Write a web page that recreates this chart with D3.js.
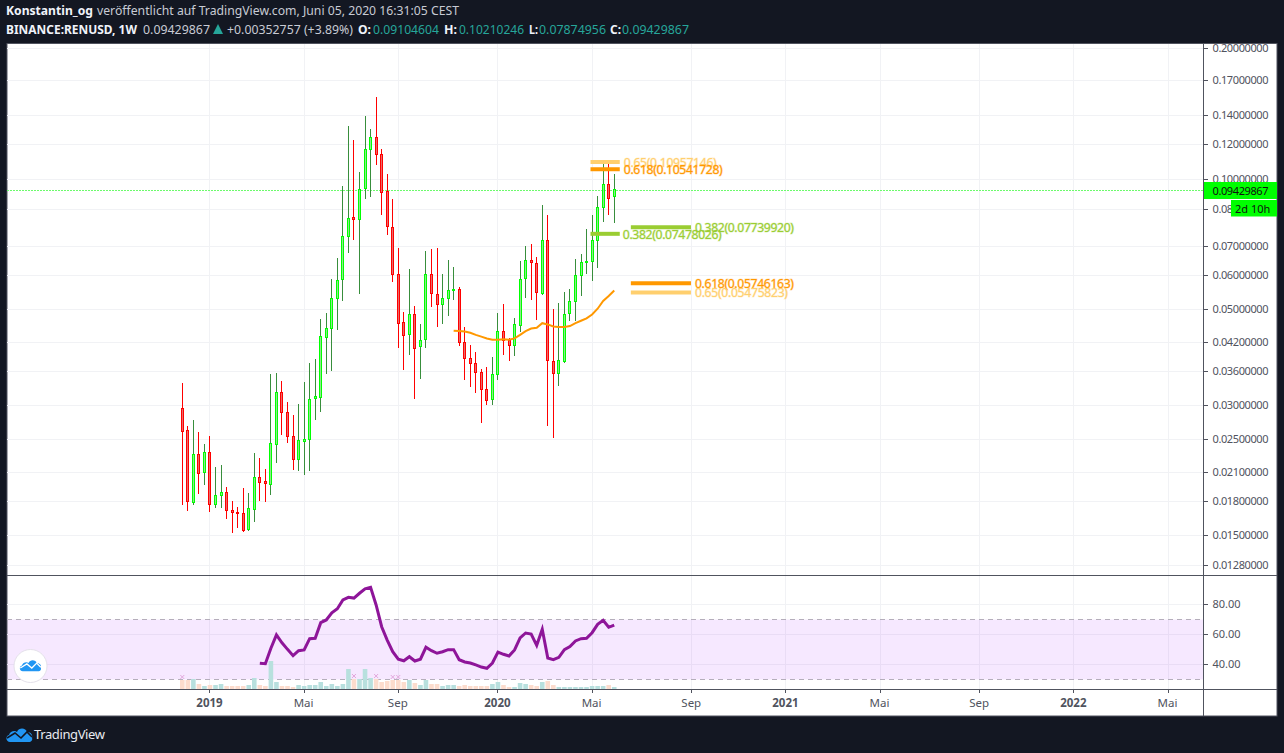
<!DOCTYPE html>
<html><head><meta charset="utf-8">
<script src="https://cdnjs.cloudflare.com/ajax/libs/d3/7.8.5/d3.min.js"></script>
<style>
html,body{margin:0;padding:0;background:#131722;overflow:hidden}
svg{display:block}
text{font-family:"Noto Sans",sans-serif}
</style></head><body>
<svg id="c" width="1284" height="753"></svg>
<script>
const firstWeek = "2018-12-03";
const open = [.02945,.0263,.0179,.0231,.0209,.0233,.01765,.01853,.01887,.01717,.01698,.0169,.01543,.01727,.02049,.01996,.0197,.02446,.03218,.02894,.02541,.02251,.02481,.02505,.0310,.03125,.0430,.0452,.05306,.0584,.0738,.0813,.0806,.0947,.1167,.1243,.1136,.0933,.0774,.0603,.0465,.0435,.0485,.0410,.0424,.0600,.0542,.0514,.0531,.0553,.0556,.0420,.0385,.0375,.0357,.0327,.0309,.0353,.0443,.0423,.0412,.0460,.0589,.0647,.0637,.0543,.0719,.0379,.0355,.0380,.0489,.0521,.0597,.0639,.0642,.0722,.0859,.0970,.09104];
const high = [.0336,.0268,.0277,.0259,.0244,.0254,.0216,.0218,.01936,.0180,.01743,.01925,.0188,.02322,.0226,.02135,.03534,.03552,.03402,.03046,.02843,.03015,.03383,.0374,.0382,.04742,.0490,.05845,.0654,.0959,.1320,.1226,.1034,.1392,.1300,.1541,.1169,.1023,.0895,.0689,.0491,.0617,.0506,.0461,.0679,.0687,.0689,.0601,.0648,.0624,.0560,.0454,.0412,.0397,.0363,.0366,.0386,.0488,.0512,.0429,.0476,.0645,.0697,.0705,.0658,.0867,.0823,.0498,.0516,.0546,.0556,.0650,.0669,.0763,.0823,.0912,.1079,.1079,.10210];
const low = [.01765,.0171,.0176,.0187,.0196,.0170,.01733,.01733,.01638,.01516,.0156,.01524,.01534,.01611,.0180,.0179,.0186,.02206,.02551,.0245,.02123,.02109,.02064,.02109,.0277,.02888,.03538,.0359,.04467,.0521,.0673,.0721,.0541,.0897,.0907,.1074,.0824,.0740,.0577,.04057,.0361,.0390,.0309,.0344,.0406,.0504,.0454,.0462,.0481,.0523,.0410,.0343,.0330,.0319,.0272,.0299,.0299,.0342,.0390,.0378,.0388,.0442,.0528,.0525,.0471,.0539,.0268,.0252,.0331,.0375,.0468,.0468,.0534,.0602,.0580,.0621,.0794,.0824,.07875];
const close = [.0261,.0180,.0231,.0209,.0233,.01765,.01856,.01887,.01717,.01695,.01686,.01543,.01729,.02049,.01996,.0197,.02446,.03218,.02894,.02541,.02251,.02485,.02505,.0310,.03137,.04318,.0452,.05306,.0584,.07357,.0812,.0806,.0947,.1167,.1243,.1136,.0929,.0774,.0603,.0465,.0433,.0485,.04057,.0424,.0600,.0542,.0514,.05306,.0553,.0556,.0419,.0385,.0375,.0358,.0327,.0309,.0353,.0443,.0422,.0412,.0460,.0587,.0647,.0639,.0545,.0719,.0379,.0355,.0381,.0487,.0522,.0597,.0640,.0644,.0719,.0861,.0970,.0901,.09430];
const volume = [9,9,10,5,3,4,4,5,3,3,3,3,4,11,4,3,28,7,3,3,2,4,3,4,4,7,3,5,3,5,20,10,10,20,11,10,7,8,9,9,7,9,6,4,9,5,5,3,4,4,3,4,3,3,3,3,5,7,4,2,2,6,5,4,3,7,8,4,2,2,2,2,2,2,3,3,3,4,2];
const volumeUp = [0,0,1,0,1,0,1,1,0,0,0,0,1,1,0,0,1,1,0,0,0,1,1,1,1,1,1,1,1,1,1,0,1,1,1,0,0,0,0,0,0,1,0,1,1,0,0,1,1,1,0,0,0,0,0,0,1,1,0,0,1,1,1,0,0,1,0,0,1,1,1,1,1,1,1,1,1,0,1];
const volumeMarks = [0,31,35,38,39];
const rsiStart = 14;
const rsi = [40.8,40.5,50.8,59.7,54.5,50.1,45.9,49.2,49.7,57.2,57.5,67.9,69.7,74.5,77.2,83,84.8,84.3,87.5,90.5,91.5,79.7,65.2,56.3,48.5,43.5,42.5,45.2,42.3,43.5,51.5,49.2,47.5,48.5,49.9,49.9,43.2,41.7,41,39.7,38.3,37.5,41,48.3,46.8,45.7,49.7,57.7,61,60.3,52.8,63.5,44.3,43.2,44.8,49.9,51.9,55.7,57.2,57.5,61.2,66.8,69.5,64.8,66.3];
const maStart = 49;
const ma = [.0445,.0444,.0443,.0440,.0435,.0431,.0427,.0424,.0424,.0425,.0424,.0427,.0435,.0444,.0450,.0452,.0463,.0460,.0455,.0454,.0454,.0456,.0463,.0469,.0475,.0485,.0500,.0521,.0535,.0551];
const priceTicks = [.2,.169,.14,.12,.1,.085,.07,.06,.05,.042,.036,.03,.025,.021,.018,.015,.0128];
const priceLabels = ["0.20000000","0.17000000","0.14000000","0.12000000","0.10000000","0.08500000","0.07000000","0.06000000","0.05000000","0.04200000","0.03600000","0.03000000","0.02500000","0.02100000","0.01800000","0.01500000","0.01280000"];
const rsiTicks = [80,60,40];
const timeTicks = [["2019-01-07","2019",1],["2019-05-06","Mai",0],["2019-09-02","Sep",0],["2020-01-06","2020",1],["2020-05-04","Mai",0],["2020-09-07","Sep",0],["2021-01-04","2021",1],["2021-05-03","Mai",0],["2021-09-06","Sep",0],["2022-01-03","2022",1],["2022-05-02","Mai",0]];
const fibLabels = ["0.65(0.10957146)","0.618(0.10541728)","0.382(0.07739920)","0.382(0.07478026)","0.618(0.05746163)","0.65(0.05475823)"];
const fibPrices = [.10957146,.10541728,.0773992,.07478026,.05746163,.05475823];
const fibStart = ["2020-05-02","2020-05-02","2020-06-22","2020-05-02","2020-06-22","2020-06-22"];
const fibEnd = ["2020-06-08","2020-06-08","2020-09-06","2020-06-08","2020-09-06","2020-09-06"];
const fibColors = ["#ffcf6e","#ff9800","#9acd32","#9acd32","#ff9800","#ffcf6e"];
const lastPrice = .09429867;

const svg = d3.select("#c");
const parse = d3.utcParse("%Y-%m-%d");
const weekDates = open.map((_,i)=>d3.utcWeek.offset(parse(firstWeek),i));
const x = d3.scaleUtc().domain([parse(firstWeek),parse("2022-05-02")]).range([182.3,1168]);
const y = d3.scaleLog().domain([.2,.0128]).range([48,565]);
const yLevel = d3.scaleLog().domain([.2,.0128]).range([48.8,565.8]);
const yR = d3.scaleLinear().domain([70,30]).range([619.5,679.5]);
const yV = d3.scaleLinear().domain([0,28]).range([689,661]);
const L=7,R=1203,E=1277,T=44,P1=575.5,P2=689,B=716;
const snap = v=>Math.floor(v)+.5;

// frame
svg.append("rect").attr("x",L).attr("y",T-.5).attr("width",E-L).attr("height",B-T+.5).attr("fill","#fff").attr("stroke","#50535e");
const grid="#f1f2f5";
const gg=svg.append("g").attr("shape-rendering","crispEdges");
gg.selectAll(".h").data(priceTicks).join("line").attr("x1",L).attr("x2",R).attr("y1",d=>snap(yLevel(d))).attr("y2",d=>snap(yLevel(d))).attr("stroke",grid);
gg.selectAll(".r").data(rsiTicks).join("line").attr("x1",L).attr("x2",R).attr("y1",d=>snap(yR(d))).attr("y2",d=>snap(yR(d))).attr("stroke",grid);
gg.selectAll(".v").data(timeTicks).join("path").attr("d",d=>{const X=snap(x(parse(d[0])));return `M${X} ${T}V${P1}M${X} ${P1}V${P2}`}).attr("stroke",grid);

// RSI band
svg.append("rect").attr("x",L+.5).attr("width",R-L).attr("y",yR(70)).attr("height",yR(30)-yR(70)).attr("fill","rgba(152,0,255,.09)");
[70,30].forEach(v=>svg.append("line").attr("x1",L).attr("x2",R).attr("y1",yR(v)).attr("y2",yR(v)).attr("stroke","#b5aebb").attr("stroke-dasharray","5 4"));

// volume
svg.append("g").selectAll("rect").data(volume).join("rect")
 .attr("x",(d,i)=>x(weekDates[i])-2.3).attr("width",4.6).attr("y",d=>yV(d)).attr("height",d=>yV(0)-yV(d))
 .attr("fill",(d,i)=>volumeUp[i]?"#b8e0de":"#fcdccd");
svg.append("g").selectAll("path").data(volumeMarks).join("path")
 .attr("d",d3.symbol(d3.symbolX,12))
 .attr("transform",d=>`translate(${x(weekDates[d])},${yV(volume[d])-3})`)
 .attr("fill","none").attr("stroke","#e3a6dc");

// last price line
svg.append("line").attr("x1",L).attr("x2",R).attr("y1",snap(yLevel(lastPrice))).attr("y2",snap(yLevel(lastPrice))).attr("stroke","#6cfb6c").attr("stroke-dasharray","2 1").attr("shape-rendering","crispEdges");

// candles
const cg=svg.append("g").attr("shape-rendering","crispEdges");
const idx=d3.range(open.length);
cg.selectAll("line").data(idx).join("line")
 .attr("x1",i=>snap(x(weekDates[i]))).attr("x2",i=>snap(x(weekDates[i])))
 .attr("y1",i=>y(high[i])).attr("y2",i=>y(low[i]))
 .attr("stroke",i=>close[i]>=open[i]?"#388e3c":"#ff0000");
cg.selectAll("rect").data(idx).join("rect")
 .attr("x",i=>snap(x(weekDates[i]))-1).attr("width",2)
 .attr("y",i=>Math.round(y(Math.max(open[i],close[i])))+.5)
 .attr("height",i=>Math.max(1,Math.round(y(Math.min(open[i],close[i]))-y(Math.max(open[i],close[i])))))
 .attr("fill",i=>close[i]>=open[i]?"#8fe68f":"#e86a6a")
 .attr("stroke",i=>close[i]>=open[i]?"#00ff00":"#ff0000");

// MA and RSI
svg.append("path").datum(ma).attr("fill","none").attr("stroke","#ff9800").attr("stroke-width",2)
 .attr("d",d3.line().x((d,i)=>x(weekDates[i+maStart])).y(d=>y(d)));
svg.append("path").datum(rsi).attr("fill","none").attr("stroke","#8e1599").attr("stroke-width",3)
 .attr("d",d3.line().x((d,i)=>x(weekDates[i+rsiStart])).y(d=>yR(d)));

// fibs
const fg=svg.append("g");
fibLabels.forEach((t,i)=>{
 const x1=x(parse(fibStart[i])),x2=x(parse(fibEnd[i])),Y=yLevel(fibPrices[i]);
 fg.append("line").attr("x1",x1).attr("x2",x2).attr("y1",Y).attr("y2",Y).attr("stroke",fibColors[i]).attr("stroke-width",4);
 fg.append("text").attr("x",x2+(i==3?3:4)).attr("y",Y+4.8).attr("font-size",12.2).attr("fill",fibColors[i])
   .attr("stroke",fibColors[i]).attr("stroke-opacity",.3).attr("stroke-width",1.2).attr("textLength",t.startsWith("0.65")?93:99).text(t);
});

// axes lines
const al=svg.append("g").attr("shape-rendering","crispEdges").attr("stroke","#50535e");
al.append("line").attr("x1",snap(R)).attr("x2",snap(R)).attr("y1",T).attr("y2",B);
al.append("line").attr("x1",L).attr("x2",E).attr("y1",P1).attr("y2",P1);
al.append("line").attr("x1",L).attr("x2",E).attr("y1",P2).attr("y2",P2);
const tc="#50535e";
const pa=svg.append("g");
pa.selectAll("line").data(priceTicks.concat(rsiTicks.map(v=>-v))).join("line")
 .attr("x1",R).attr("x2",R+5).attr("y1",d=>snap(d>0?yLevel(d):yR(-d))).attr("y2",d=>snap(d>0?yLevel(d):yR(-d))).attr("stroke",tc).attr("shape-rendering","crispEdges");
pa.selectAll("text.p").data(priceTicks).join("text").attr("x",1212.5).attr("y",d=>yLevel(d)+3.5).attr("font-size",11).attr("fill",tc).attr("textLength",56).text((d,i)=>priceLabels[i]);
pa.selectAll("text.r").data(rsiTicks).join("text").attr("x",1212.5).attr("y",d=>yR(d)+3.5).attr("font-size",11).attr("fill",tc).text(d=>d.toFixed(2));
const ta=svg.append("g");
ta.selectAll("line").data(timeTicks).join("line").attr("x1",d=>snap(x(parse(d[0])))).attr("x2",d=>snap(x(parse(d[0])))).attr("y1",P2).attr("y2",P2+4).attr("stroke",tc).attr("shape-rendering","crispEdges");
ta.selectAll("text").data(timeTicks).join("text").attr("x",d=>x(parse(d[0]))-.5).attr("y",707).attr("text-anchor","middle").attr("font-size",11.5).attr("font-weight",d=>d[2]?700:400).attr("fill",tc).text(d=>d[1]);

// last-price tags
svg.append("rect").attr("x",R+1).attr("y",182).attr("width",E-R-1).attr("height",17).attr("fill","#00ff00");
svg.append("text").attr("x",1212.5).attr("y",194.5).attr("font-size",11).attr("fill","#111").attr("textLength",56).text(lastPrice.toFixed(8));
svg.append("rect").attr("x",1231).attr("y",200).attr("width",E-1231).attr("height",16.5).attr("fill","#00ff00");
svg.append("text").attr("x",1235).attr("y",212.5).attr("font-size",11).attr("fill","#111").text("2d 10h");

// logos
function cloud(g,fill,line){
 g.append("path").attr("d","M4 15C0 15 -1 9 3 8C4 4 9 3 11 5C13 0 20 1 21 5C25 5 27 8 26 11C27 13 25 15 23 15Z").attr("fill",fill);
 g.append("path").attr("d","M1 11L9 6L15 11L21 5L26 10").attr("fill","none").attr("stroke",line).attr("stroke-width",1.6);
}
svg.append("circle").attr("cx",30.5).attr("cy",666).attr("r",16.5).attr("fill","#fff").attr("stroke","#e4e1ea");
cloud(svg.append("g").attr("transform","translate(19.5,659) scale(.82)"),"#2196f3","#fff");
cloud(svg.append("g").attr("transform","translate(6,727)"),"#2196f3","#131722");
svg.append("text").attr("x",34).attr("y",739).attr("font-size",13).attr("fill","#e8eaf0").attr("textLength",71).text("TradingView");

// header
const hdr=[["Konstantin_og",6,15,"#f0f3fa",700,87],["veröffentlicht auf TradingView.com, Juni 05, 2020 16:31:05 CEST",97,15,"#c8cbd4",400,362],
["BINANCE:RENUSD, 1W",6,34,"#f0f3fa",700,131],["0.09429867",143,34,"#c8cbd4",400,67],["+0.00352757 (+3.89%)",227,34,"#c8cbd4",400,126],
["O:",358,34,"#f0f3fa",700,13],["0.09104604",373,34,"#26a69a",400,66],["H:",444,34,"#f0f3fa",700,13],["0.10210246",459,34,"#26a69a",400,65],
["L:",529,34,"#f0f3fa",700,9],["0.07874956",539,34,"#26a69a",400,67],["C:",610,34,"#f0f3fa",700,11],["0.09429867",622,34,"#26a69a",400,67]];
svg.append("g").selectAll("text").data(hdr).join("text").attr("x",d=>d[1]).attr("y",d=>d[2]).attr("font-size",12.5).attr("fill",d=>d[3]).attr("font-weight",d=>d[4]).attr("textLength",d=>d[5]).attr("lengthAdjust","spacingAndGlyphs").text(d=>d[0]);
svg.append("path").attr("d","M213 34L218 24L223 34Z").attr("fill","#26a69a");
</script>
</body></html>
